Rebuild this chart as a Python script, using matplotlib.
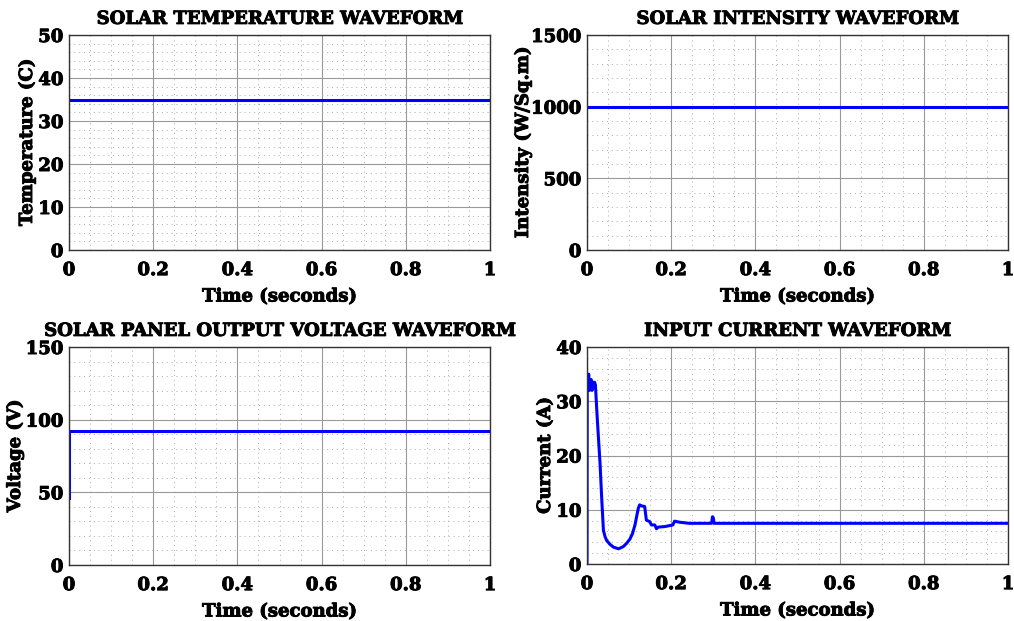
import numpy as np
import matplotlib.pyplot as plt
import matplotlib.patheffects as pe
from matplotlib.ticker import MultipleLocator

plt.rcParams["font.family"] = "DejaVu Serif"
plt.rcParams["font.weight"] = "bold"

# constant signals
temp_t = [0.0, 1.0]
temp_v = [35.0, 35.0]

irr_t = [0.0, 1.0]
irr_v = [1000.0, 1000.0]

volt_t = [0.0, 0.0, 0.0005, 1.0]
volt_v = [46.0, 92.5, 92.5, 92.5]

# input current
cur_t = [0.0, 0.0005, 0.002, 0.004, 0.006, 0.008, 0.010, 0.012, 0.014, 0.016, 0.018, 0.020,
         0.0235, 0.027, 0.031, 0.035, 0.039, 0.043, 0.047, 0.055, 0.063, 0.075,
         0.086, 0.094, 0.102, 0.108, 0.114, 0.118, 0.122, 0.125, 0.130, 0.137,
         0.141, 0.149, 0.153, 0.161, 0.165, 0.169, 0.185, 0.204, 0.208, 0.220,
         0.243, 0.296, 0.298, 0.300, 0.302, 0.400, 0.600, 0.800, 1.0]
cur_v = [0.0, 33.0, 33.0, 35.0, 32.0, 33.5, 34.0, 32.0, 33.5, 32.5, 33.5, 33.0,
         28.0, 23.5, 18.5, 12.0, 6.2, 5.0, 4.3, 3.6, 3.1, 2.8,
         3.2, 3.8, 4.6, 5.6, 7.2, 8.8, 10.3, 10.9, 10.7, 10.6,
         8.1, 7.8, 7.2, 7.2, 6.5, 6.8, 6.9, 7.2, 7.9, 7.7,
         7.5, 7.5, 8.7, 8.5, 7.5, 7.5, 7.5, 7.5, 7.5]

panels = [
    ("SOLAR TEMPERATURE WAVEFORM", "Temperature (C)", temp_t, temp_v, 50, 10, 2),
    ("SOLAR INTENSITY WAVEFORM", "Intensity (W/Sq.m)", irr_t, irr_v, 1500, 500, 100),
    ("SOLAR PANEL OUTPUT VOLTAGE WAVEFORM", "Voltage (V)", volt_t, volt_v, 150, 50, 10),
    ("INPUT CURRENT WAVEFORM", "Current (A)", cur_t, cur_v, 40, 10, 2),
]

fig = plt.figure(figsize=(10.14, 6.21), dpi=100)
W, H = 1014, 621
boxes = [(69, 35, 490, 250), (587, 35, 1008, 250),
         (69, 347, 490, 565), (587, 347, 1008, 564)]
# right edge (px) of each rotated y label
label_right = [36, 532, 24, 554]

heavy = [pe.withStroke(linewidth=0.7, foreground="black")]

for (title, ylabel, t, v, ymax, ymaj, ymin), (x0, y0, x1, y1), lx in zip(panels, boxes, label_right):
    ax = fig.add_axes([x0 / W, 1 - y1 / H, (x1 - x0) / W, (y1 - y0) / H])
    ax.plot(t, v, color="#0000ff", lw=2.2)
    ax.set_xlim(0, 1)
    ax.set_ylim(0, ymax)
    ax.xaxis.set_major_locator(MultipleLocator(0.2))
    ax.xaxis.set_minor_locator(MultipleLocator(0.05))
    ax.yaxis.set_major_locator(MultipleLocator(ymaj))
    ax.yaxis.set_minor_locator(MultipleLocator(ymin))
    ax.xaxis.set_major_formatter(plt.FuncFormatter(lambda x, p: f"{x:g}"))
    ax.grid(which="major", color="#999999", lw=0.8)
    ax.grid(which="minor", color="#aaaaaa", lw=0.7, ls=(0, (1, 4)))
    ax.tick_params(which="both", direction="in", length=0, labelsize=13)
    ax.tick_params(axis="x", pad=8)
    ax.tick_params(axis="y", pad=4)
    for lab in ax.get_xticklabels() + ax.get_yticklabels():
        lab.set_path_effects(heavy)
    for s in ax.spines.values():
        s.set_color("#333333")
        s.set_linewidth(1.0)
    ax.set_title(title, fontsize=13, fontweight="bold", pad=8, path_effects=heavy)
    ax.set_xlabel("Time (seconds)", fontsize=13, fontweight="bold", labelpad=6,
                  path_effects=heavy)
    ax.set_ylabel(ylabel, fontsize=13, fontweight="bold", path_effects=heavy)
    ax.yaxis.set_label_coords((lx - x0) / (x1 - x0), 0.5)

fig.savefig("out.png", dpi=100)
